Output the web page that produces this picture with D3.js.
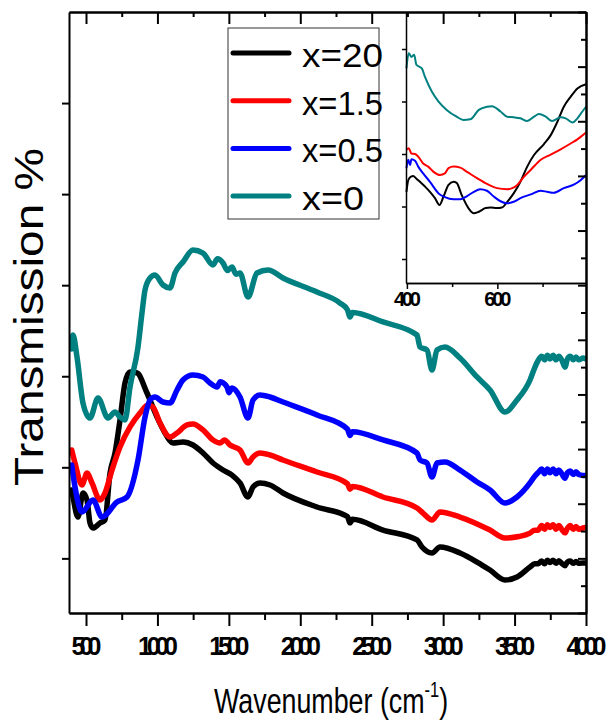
<!DOCTYPE html>
<html>
<head>
<meta charset="utf-8">
<script src="https://cdnjs.cloudflare.com/ajax/libs/d3/7.8.5/d3.min.js"></script>
<style>
body { margin: 0; background: #fff; }
svg { display: block; font-family: "Liberation Sans", Arial, sans-serif; }
</style>
</head>
<body>
<div id="chart"></div>
<script>
const width = 613;
const height = 723;

// legend labels and colours
const labels = ["x=20", "x=1.5", "x=0.5", "x=0"];
const colors = ["#000000", "#ff0000", "#0000ff", "#008080"];

// axis ticks
const xMajor = [500, 1000, 1500, 2000, 2500, 3000, 3500, 4000];
const xMinor = [750, 1250, 1750, 2250, 2750, 3250, 3750];
const yLeftTicks = [0, 10, 20, 30, 40, 50];
const insetMajor = [400, 600];
const insetMinor = [500, 700];
const insetYTicks = [10, 20, 30, 40, 50];

// main spectra (wavenumber, transmission in arbitrary units)
const waveBlack = [400, 409, 444, 479, 507, 528, 549, 598, 633, 668, 703, 738, 773, 808, 857, 927, 997, 1053, 1109, 1179, 1249, 1319, 1389, 1459, 1522, 1578, 1634, 1669, 1718, 1788, 1879, 2117, 2330, 2348, 2365, 2579, 2817, 2852, 2922, 2978, 3118, 3237, 3328, 3433, 3517, 3608, 3640, 3664, 3690, 3710, 3730, 3748, 3770, 3790, 3810, 3830, 3853, 3870, 3890, 3910, 3930, 3950, 3979, 4000];
const transBlack = [7.5, 6.74, 4.54, 7.18, 6.41, 3.88, 3.33, 3.88, 4.21, 9.37, 11.57, 15.19, 19.26, 20.47, 20.36, 18.16, 15.52, 13.77, 12.67, 12.78, 12.45, 11.57, 10.47, 9.7, 9.15, 8.28, 6.74, 7.84, 8.28, 8.06, 7.18, 5.64, 4.6, 3.9, 4.3, 3.11, 2.02, 1.25, 0.59, 1.25, 0.59, -0.4, -1.28, -2.38, -2.05, -0.95, -0.6, -0.6, -0.3, -0.6, -0.2, -0.45, -0.2, -0.55, -0.25, -0.55, -0.8, -0.4, -0.3, -0.55, -0.35, -0.55, -0.5, -0.5];

const waveRed = [400, 423, 472, 507, 542, 598, 633, 682, 738, 808, 878, 934, 969, 1018, 1088, 1137, 1207, 1249, 1319, 1389, 1438, 1470, 1508, 1578, 1634, 1669, 1718, 1788, 1879, 2117, 2330, 2348, 2365, 2579, 2817, 2859, 2922, 2978, 3118, 3328, 3433, 3530, 3608, 3640, 3664, 3690, 3710, 3730, 3748, 3770, 3790, 3810, 3830, 3853, 3870, 3890, 3910, 3930, 3950, 3979, 4000];
const transRed = [11.9, 10.47, 8.06, 9.37, 8.28, 6.41, 7.18, 9.7, 12.23, 14.43, 15.96, 16.84, 16.62, 14.86, 13.33, 13.77, 14.65, 14.76, 14.1, 13.0, 12.67, 13.0, 12.45, 11.9, 10.47, 11.13, 11.57, 11.35, 10.8, 9.48, 8.2, 7.6, 7.9, 6.74, 5.53, 4.98, 4.21, 5.09, 4.54, 3.11, 2.24, 2.4, 2.78, 3.1, 3.1, 3.6, 3.2, 3.7, 3.4, 3.7, 3.2, 3.6, 3.2, 2.8, 3.3, 3.6, 3.2, 3.5, 3.2, 3.33, 3.4];

const waveBlue = [400, 423, 472, 549, 612, 717, 787, 864, 913, 948, 983, 1039, 1088, 1137, 1179, 1249, 1319, 1368, 1417, 1440, 1487, 1500, 1522, 1578, 1634, 1669, 1718, 1788, 1879, 2117, 2330, 2348, 2365, 2579, 2817, 2838, 2887, 2922, 2957, 3013, 3118, 3237, 3328, 3433, 3517, 3608, 3640, 3664, 3690, 3710, 3730, 3748, 3770, 3790, 3810, 3830, 3853, 3870, 3890, 3910, 3930, 3950, 3979, 4000];
const transBlue = [10.25, 7.84, 5.09, 6.41, 4.54, 6.19, 6.74, 10.8, 15.52, 17.39, 17.72, 17.17, 17.06, 18.49, 19.59, 20.14, 19.92, 19.26, 18.82, 19.4, 18.82, 18.2, 18.71, 17.72, 15.41, 17.39, 17.94, 17.72, 17.17, 15.74, 14.2, 13.5, 13.9, 13.0, 11.57, 10.8, 10.47, 8.93, 10.47, 10.58, 9.7, 8.39, 7.51, 6.08, 6.74, 8.28, 9.0, 9.4, 9.8, 9.3, 9.8, 9.4, 9.8, 9.3, 9.7, 9.3, 8.8, 9.4, 9.6, 9.2, 9.5, 9.2, 9.1, 9.1];

const waveTeal = [400, 409, 437, 479, 528, 584, 654, 703, 738, 773, 808, 864, 892, 913, 948, 983, 1039, 1088, 1123, 1179, 1249, 1319, 1389, 1420, 1459, 1490, 1522, 1550, 1578, 1634, 1697, 1774, 1879, 2117, 2278, 2330, 2348, 2365, 2579, 2817, 2838, 2887, 2922, 2957, 3013, 3118, 3237, 3328, 3433, 3517, 3608, 3640, 3664, 3690, 3710, 3730, 3748, 3770, 3790, 3810, 3830, 3853, 3870, 3890, 3910, 3930, 3950, 3979, 4000];
const transTeal = [23.0, 24.53, 22.11, 17.06, 15.41, 17.61, 15.41, 16.07, 15.52, 15.19, 18.82, 23.21, 26.95, 29.47, 30.79, 31.12, 30.02, 29.69, 31.34, 32.55, 33.86, 33.53, 32.22, 32.9, 32.44, 31.6, 32.0, 31.2, 31.34, 28.7, 31.34, 31.67, 30.79, 29.25, 28.04, 27.3, 26.5, 27.0, 25.96, 24.53, 23.21, 22.88, 20.69, 22.88, 23.21, 22.0, 19.92, 18.49, 16.07, 17.39, 19.59, 20.9, 21.7, 22.2, 21.8, 22.3, 21.9, 22.3, 21.8, 22.2, 21.8, 21.0, 21.9, 22.2, 21.8, 22.1, 21.8, 22.0, 21.9];

// inset spectra (400-800 cm-1)
const insetWaveBlack = [399, 403, 409, 414, 420, 429, 440, 451, 462, 472, 481, 492, 503, 510, 521, 536, 548, 559, 574, 585, 599, 610, 622, 636, 651, 666, 681, 703, 718, 733, 747, 762, 777, 796];
const insetBlack = [22.8, 25.0, 25.7, 25.8, 25.4, 24.7, 23.8, 22.8, 21.6, 20.3, 21.9, 24.1, 24.7, 24.5, 22.2, 19.7, 18.7, 19.0, 19.7, 19.8, 19.7, 19.8, 20.9, 22.5, 24.7, 27.6, 29.8, 31.9, 33.6, 36.2, 39.0, 40.9, 42.5, 43.3];

const insetWaveRed = [399, 404, 410, 418, 425, 436, 447, 459, 473, 484, 492, 503, 518, 533, 555, 577, 599, 622, 633, 644, 659, 674, 696, 718, 740, 762, 777, 796];
const insetRed = [30.8, 31.1, 30.1, 30.0, 29.5, 28.2, 27.6, 26.6, 26.0, 26.3, 27.3, 27.6, 27.4, 26.6, 25.4, 24.3, 23.5, 23.3, 23.5, 24.1, 25.7, 27.0, 28.9, 29.9, 30.9, 32.0, 32.8, 34.1];

const insetWaveBlue = [399, 403, 407, 410, 418, 425, 436, 451, 470, 484, 503, 518, 533, 548, 562, 577, 592, 607, 622, 636, 651, 674, 696, 710, 725, 747, 770, 784, 796];
const insetBlue = [27.3, 28.9, 27.9, 29.0, 28.7, 27.6, 26.3, 24.7, 22.5, 21.8, 21.4, 21.4, 22.0, 22.8, 23.3, 23.0, 21.9, 21.0, 20.6, 20.9, 21.6, 22.3, 23.0, 22.8, 22.6, 23.5, 24.2, 25.0, 26.0];

const insetWaveTeal = [399, 404, 410, 416, 421, 433, 440, 455, 470, 488, 510, 525, 540, 559, 577, 588, 607, 622, 636, 651, 666, 681, 692, 707, 721, 740, 751, 766, 777, 788, 796];
const insetTeal = [46.3, 49.2, 48.5, 48.9, 47.0, 46.3, 44.7, 41.9, 40.0, 38.4, 37.1, 36.5, 36.6, 38.4, 39.0, 39.1, 38.1, 37.1, 37.0, 36.8, 36.3, 37.1, 37.6, 37.1, 36.3, 37.0, 36.8, 36.0, 36.8, 38.1, 39.0];

const series = [
    { color: colors[0], main: d3.zip(waveBlack, transBlack), inset: d3.zip(insetWaveBlack, insetBlack) },
    { color: colors[1], main: d3.zip(waveRed, transRed), inset: d3.zip(insetWaveRed, insetRed) },
    { color: colors[2], main: d3.zip(waveBlue, transBlue), inset: d3.zip(insetWaveBlue, insetBlue) },
    { color: colors[3], main: d3.zip(waveTeal, transTeal), inset: d3.zip(insetWaveTeal, insetTeal) }
];

const plotLeft = 69, plotRight = 586, plotTop = 12, plotBottom = 613;
const insetLeft = 406, insetBottomY = 283;

const svg = d3.select("#chart").append("svg")
    .attr("width", width)
    .attr("height", height);

svg.append("rect").attr("width", width).attr("height", height).attr("fill", "#fff");

const x = d3.scaleLinear().domain([381, 4000]).range([plotLeft, plotRight]);
const y = d3.scaleLinear().domain([-6, 60]).range([plotBottom, plotTop]);

svg.append("defs").append("clipPath")
    .attr("id", "clip")
    .append("rect")
    .attr("x", plotLeft).attr("y", plotTop)
    .attr("width", plotRight - plotLeft).attr("height", plotBottom - plotTop);

const line = d3.line()
    .x(d => x(d[0]))
    .y(d => y(d[1]))
    .curve(d3.curveMonotoneX);

svg.append("g")
    .attr("clip-path", "url(#clip)")
    .selectAll("path")
    .data(series)
    .enter().append("path")
    .attr("d", d => line(d.main))
    .attr("fill", "none")
    .attr("stroke", d => d.color)
    .attr("stroke-width", 5.5)
    .attr("stroke-linejoin", "round")
    .attr("stroke-linecap", "round");

// inset
const ix = d3.scaleLinear().domain([398, 796]).range([insetLeft, plotRight]);
const iy = d3.scaleLinear().domain([5.43, 57.05]).range([insetBottomY, plotTop]);

svg.append("rect")
    .attr("x", insetLeft).attr("y", plotTop)
    .attr("width", plotRight - insetLeft).attr("height", insetBottomY - plotTop)
    .attr("fill", "#fff");

const insetLine = d3.line()
    .x(d => ix(d[0]))
    .y(d => iy(d[1]))
    .curve(d3.curveMonotoneX);

svg.append("g")
    .selectAll("path")
    .data(series)
    .enter().append("path")
    .attr("d", d => insetLine(d.inset))
    .attr("fill", "none")
    .attr("stroke", d => d.color)
    .attr("stroke-width", 2)
    .attr("stroke-linejoin", "round");

function styleAxis(g, w) {
    g.selectAll("path").attr("stroke", "#000").attr("stroke-width", w);
    g.selectAll("line").attr("stroke", "#000").attr("stroke-width", w);
}

// main axes
svg.append("g")
    .attr("transform", `translate(0,${plotBottom})`)
    .call(d3.axisBottom(x).tickValues(xMinor).tickSize(7).tickSizeOuter(0).tickFormat(""))
    .call(g => styleAxis(g, 2));

const bottomAxis = svg.append("g")
    .attr("transform", `translate(0,${plotBottom})`)
    .call(d3.axisBottom(x).tickValues(xMajor).tickSize(13).tickSizeOuter(0).tickPadding(11).tickFormat(d3.format("d")))
    .call(g => styleAxis(g, 2));

bottomAxis.selectAll("text")
    .attr("fill", "#000")
    .style("font-size", "25px")
    .style("font-weight", "bold")
    .style("font-family", "'Liberation Sans', Arial, sans-serif")
    .attr("textLength", d => d >= 1000 ? 40 : 30);

svg.append("g")
    .attr("transform", `translate(0,${plotTop})`)
    .call(d3.axisTop(x).tickValues(xMajor).tickSize(-12).tickSizeOuter(0).tickFormat(""))
    .call(g => styleAxis(g, 2));

svg.append("g")
    .attr("transform", `translate(0,${plotTop})`)
    .call(d3.axisTop(x).tickValues(xMinor).tickSize(-5).tickSizeOuter(0).tickFormat(""))
    .call(g => styleAxis(g, 2));

svg.append("g")
    .attr("transform", `translate(${plotLeft},0)`)
    .call(d3.axisLeft(y).tickValues(yLeftTicks).tickSize(7).tickSizeOuter(0).tickFormat(""))
    .call(g => styleAxis(g, 2));

svg.append("g")
    .attr("transform", `translate(${plotRight},0)`)
    .call(d3.axisRight(y).tickValues(d3.range(-6, 61, 6)).tickSize(-8).tickSizeOuter(0).tickFormat(""))
    .call(g => styleAxis(g, 2));

svg.append("g")
    .attr("transform", `translate(${plotRight},0)`)
    .call(d3.axisRight(y).tickValues(d3.range(-3, 60, 6)).tickSize(-5).tickSizeOuter(0).tickFormat(""))
    .call(g => styleAxis(g, 2));

// inset axes
svg.append("g")
    .attr("transform", `translate(${insetLeft},0)`)
    .call(d3.axisLeft(iy).tickValues(insetYTicks).tickSize(4).tickSizeOuter(0).tickFormat(""))
    .call(g => styleAxis(g, 1.5));

svg.append("g")
    .attr("transform", `translate(0,${insetBottomY})`)
    .call(d3.axisBottom(ix).tickValues(insetMinor).tickSize(4).tickSizeOuter(0).tickFormat(""))
    .call(g => styleAxis(g, 1.5));

const insetBottom = svg.append("g")
    .attr("transform", `translate(0,${insetBottomY})`)
    .call(d3.axisBottom(ix).tickValues(insetMajor).tickSize(6).tickSizeOuter(0).tickPadding(3).tickFormat(d3.format("d")))
    .call(g => styleAxis(g, 1.5));

insetBottom.selectAll("text")
    .attr("fill", "#000")
    .style("font-size", "20px")
    .style("font-weight", "bold")
    .style("font-family", "'Liberation Sans', Arial, sans-serif")
    .attr("textLength", 27);

// legend
const legend = svg.append("g");
legend.append("rect")
    .attr("x", 228).attr("y", 28)
    .attr("width", 151).attr("height", 191)
    .attr("fill", "#fff")
    .attr("stroke", "#333")
    .attr("stroke-width", 1);

const legendWidths = [81, 81, 81, 62];
labels.forEach((label, i) => {
    const ly = 53 + i * 47.7;
    legend.append("line")
        .attr("x1", 233).attr("x2", 289)
        .attr("y1", ly).attr("y2", ly)
        .attr("stroke", colors[i])
        .attr("stroke-width", 5)
        .attr("stroke-linecap", "round");
    legend.append("text")
        .attr("x", 302).attr("y", ly + 14)
        .attr("font-size", 34)
        .attr("textLength", legendWidths[i])
        .attr("lengthAdjust", "spacingAndGlyphs")
        .text(label);
});

// axis titles
svg.append("text")
    .attr("transform", "translate(43,317) rotate(-90)")
    .attr("text-anchor", "middle")
    .attr("font-size", 40)
    .attr("textLength", 338)
    .attr("lengthAdjust", "spacingAndGlyphs")
    .text("Transmission %");

const xTitle = svg.append("text")
    .attr("transform", "translate(214,713) scale(0.745,1)")
    .attr("font-size", 36);
xTitle.append("tspan").text("Wavenumber (cm");
xTitle.append("tspan").attr("font-size", 22).attr("dy", -16).text("-1");
xTitle.append("tspan").attr("dy", 16).text(")");
</script>
</body>
</html>
